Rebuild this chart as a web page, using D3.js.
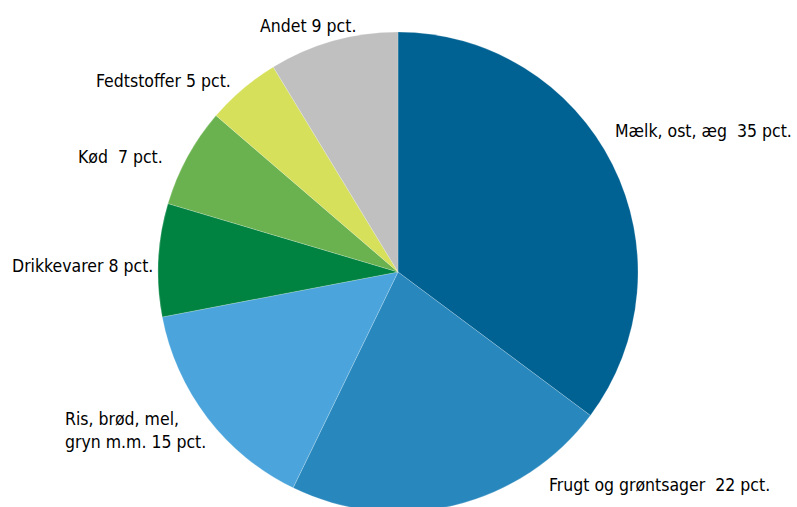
<!DOCTYPE html>
<html><head><meta charset="utf-8">
<script src="https://cdn.jsdelivr.net/npm/d3@7"></script>
<style>body{margin:0;background:#fff}svg{display:block}text{white-space:pre}</style>
</head><body>
<svg id="c" width="797" height="507"></svg>
<script>
const categories = ["Mælk, ost, æg", "Frugt og grøntsager", "Ris, brød, mel, gryn m.m.", "Drikkevarer", "Kød", "Fedtstoffer", "Andet"];
const values = [35.2, 22.0, 14.8, 7.6, 6.7, 5.0, 8.7];
const labels = [["Mælk, ost, æg  35 pct."], ["Frugt og grøntsager  22 pct."], ["Ris, brød, mel,", "gryn m.m. 15 pct."], ["Drikkevarer 8 pct."], ["Kød  7 pct."], ["Fedtstoffer 5 pct."], ["Andet 9 pct."]];
const colors = ["#006193", "#2887bd", "#4ba5dc", "#008340", "#6ab24f", "#d6e05a", "#c0c0c0"];
// label layout: x, y (baseline)
const labelPos = [[615,137],[549,491],[65,425],[12,272],[78,163],[96,87],[260,32]];

const svg = d3.select("#c");
const cx = 398, cy = 272, R = 240;
const pie = d3.pie().sort(null).value(d => d)(values);
const arc = d3.arc().innerRadius(0).outerRadius(R);
const g = svg.append("g").attr("transform", `translate(${cx},${cy})`);
g.selectAll("path").data(pie).join("path")
  .attr("d", arc).attr("fill", (d,i) => colors[i])
  .attr("stroke", "#fff").attr("stroke-width", 0.4).attr("stroke-opacity", 0.5);

labels.forEach((lines, i) => {
  const [x, y] = labelPos[i];
  const t = svg.append("text").attr("x", x).attr("y", y)
    .attr("font-family", "'DejaVu Sans Condensed', 'Liberation Sans Narrow', sans-serif")
    .attr("font-size", 17.5).attr("fill", "#000");
  lines.forEach((l, j) => t.append("tspan").attr("x", x).attr("dy", j === 0 ? 0 : 23).text(l));
});
</script>
</body></html>
